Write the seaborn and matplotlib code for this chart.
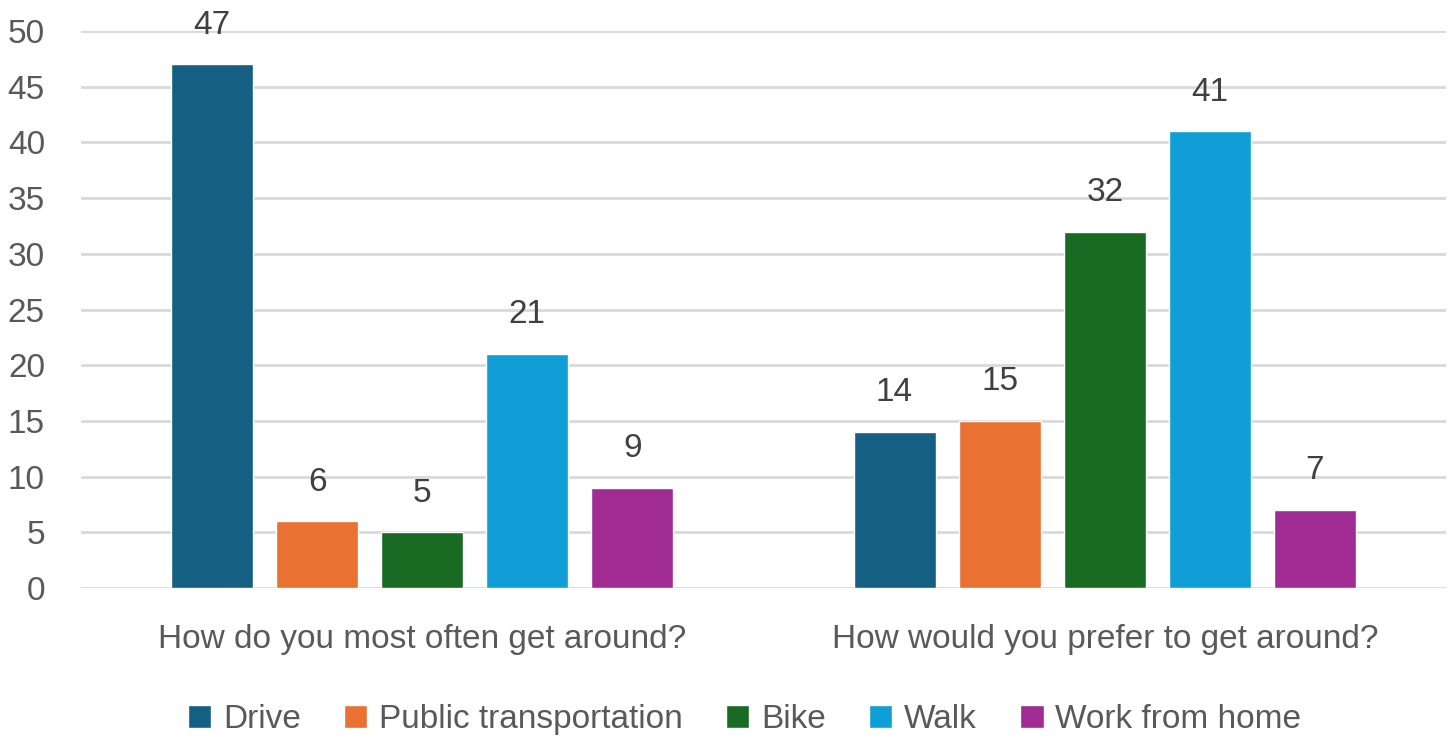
import numpy as np
import pandas as pd
import matplotlib
matplotlib.use("Agg")
import matplotlib.pyplot as plt
import seaborn as sns

questions = ["How do you most often get around?", "How would you prefer to get around?"]
modes = ["Drive", "Public transportation", "Bike", "Walk", "Work from home"]
most_often = [47, 6, 5, 21, 9]
prefer = [14, 15, 32, 41, 7]
colors = ["#156082", "#E97132", "#196B24", "#0F9ED5", "#A02B93"]

df = pd.DataFrame({
    "question": [questions[0]] * 5 + [questions[1]] * 5,
    "mode": modes * 2,
    "value": most_often + prefer,
})

sns.set_theme(style="white")
plt.rcParams["font.family"] = ["Liberation Sans", "DejaVu Sans"]

fig = plt.figure(figsize=(14.52, 7.38), dpi=100)
ax = fig.add_axes([81 / 1452, 150 / 738, 1365 / 1452, 557 / 738])

sns.barplot(data=df, x="question", y="value", hue="mode", order=questions,
            hue_order=modes, palette=colors, width=0.77, gap=0.22,
            saturation=1, legend=True, ax=ax)

for c in ax.containers:
    ax.bar_label(c, fmt="%d", padding=17, fontsize=24, color="#404040")

ax.set_ylim(0, 50)
ax.set_xlim(-0.5, 1.5)
ax.set_yticks(range(0, 51, 5))
ax.yaxis.grid(True, color="#D9D9D9", linewidth=2)
ax.set_axisbelow(True)
for s in ax.spines.values():
    s.set_visible(False)
ax.set_xlabel("")
ax.set_ylabel("")
ax.tick_params(axis="y", labelsize=24, labelcolor="#595959", length=0, pad=26)
ax.tick_params(axis="x", labelsize=24, labelcolor="#595959", length=0, pad=26)

handles, labels = ax.get_legend_handles_labels()
ax.legend(handles, labels, loc="center", bbox_to_anchor=(0.5 - 19 / 1365, -0.236),
          ncol=5, frameon=False, fontsize=24, labelcolor="#595959",
          handlelength=0.7, handleheight=0.7, handletextpad=0.35, columnspacing=1.3)

fig.savefig("out.png", dpi=100)
